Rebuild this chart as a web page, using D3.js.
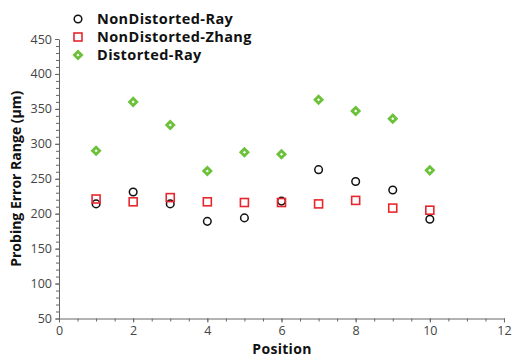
<!DOCTYPE html>
<html>
<head>
<meta charset="utf-8">
<script src="https://cdn.jsdelivr.net/npm/d3@7"></script>
<style>
  body { margin: 0; background: #fff; }
  svg { display: block; font-family: "Open Sans", sans-serif; }
  .axis path, .axis line { stroke: #666; }
  .axis text { fill: #444; font-size: 12.5px; font-family: "Open Sans", sans-serif; }
</style>
</head>
<body>
<svg id="chart" width="512" height="358"></svg>
<script>
const positions = [1, 2, 3, 4, 5, 6, 7, 8, 9, 10];
const nonDistortedRay = [214, 231, 214, 189, 194, 218, 263, 246, 234, 192];
const nonDistortedZhang = [221, 217, 223, 217, 216, 216, 214, 219, 208, 205];
const distortedRay = [290, 360, 327, 261, 288, 285, 363, 347, 336, 262];
const seriesNames = ['NonDistorted-Ray', 'NonDistorted-Zhang', 'Distorted-Ray'];

const svg = d3.select('#chart');

const margin = { top: 39, right: 8, bottom: 40, left: 59 };
const chartWidth = 504 - margin.left;
const chartHeight = 318.5 - margin.top;

const g = svg.append('g').attr('transform', `translate(${margin.left},${margin.top})`);

const x = d3.scaleLinear().domain([0, 12]).range([0, chartWidth]);
const y = d3.scaleLinear().domain([50, 450]).range([chartHeight, 0]);

//
// MINOR TICKS
//
g.append('g')
  .attr('class', 'axis')
  .attr('transform', `translate(0,${chartHeight})`)
  .call(d3.axisBottom(x).tickValues(d3.range(0, 12.01, 0.5)).tickSize(3).tickFormat(() => ''))
  .call((s) => s.select('.domain').remove());

g.append('g')
  .attr('class', 'axis')
  .call(d3.axisLeft(y).tickValues(d3.range(50, 451, 10)).tickSize(3).tickFormat(() => ''))
  .call((s) => s.select('.domain').remove());

//
// AXES
//
g.append('g')
  .attr('class', 'axis')
  .attr('transform', `translate(0,${chartHeight})`)
  .call(d3.axisBottom(x).ticks(6).tickSize(4).tickSizeOuter(0).tickPadding(4));

g.append('g')
  .attr('class', 'axis')
  .call(d3.axisLeft(y).ticks(8).tickSize(4).tickSizeOuter(0).tickPadding(3));

//
// AXIS TITLES
//
svg.append('text')
  .attr('x', 282)
  .attr('y', 354)
  .attr('text-anchor', 'middle')
  .attr('font-weight', 'bold')
  .attr('font-size', 14)
  .attr('letter-spacing', 0.3)
  .attr('fill', '#111')
  .text('Position');

svg.append('text')
  .attr('transform', `translate(21,${margin.top + chartHeight / 2}) rotate(-90)`)
  .attr('text-anchor', 'middle')
  .attr('font-weight', 'bold')
  .attr('font-size', 14)
  .attr('fill', '#111')
  .text('Probing Error Range (μm)');

//
// MARKERS
//
const diamond = d3.symbol().type(d3.symbolDiamond2).size(32);

function drawCircle(sel, cx, cy) {
  sel.append('circle')
    .attr('cx', cx).attr('cy', cy).attr('r', 3.8)
    .attr('fill', 'none').attr('stroke', '#111').attr('stroke-width', 1.5);
}
function drawSquare(sel, cx, cy) {
  sel.append('rect')
    .attr('x', cx - 4).attr('y', cy - 4).attr('width', 8).attr('height', 8)
    .attr('fill', 'none').attr('stroke', '#e8262d').attr('stroke-width', 1.6);
}
function drawDiamond(sel, cx, cy) {
  sel.append('path')
    .attr('d', diamond)
    .attr('transform', `translate(${cx},${cy})`)
    .attr('fill', '#fff').attr('stroke', '#6cc13a').attr('stroke-width', 2.8);
}

positions.forEach((p, i) => {
  drawDiamond(g, x(p), y(distortedRay[i]));
});
positions.forEach((p, i) => {
  drawCircle(g, x(p), y(nonDistortedRay[i]));
});
positions.forEach((p, i) => {
  drawSquare(g, x(p), y(nonDistortedZhang[i]));
});

//
// LEGEND
//
const drawers = [drawCircle, drawSquare, drawDiamond];
const legend = svg.append('g').attr('transform', 'translate(78,19)');
seriesNames.forEach((name, i) => {
  const ly = i * 18;
  drawers[i](legend, 0, ly);
  legend.append('text')
    .attr('x', 19)
    .attr('y', ly + 5)
    .attr('font-weight', 'bold')
    .attr('font-size', 14.5)
    .attr('letter-spacing', 0.4)
    .attr('fill', '#111')
    .text(name);
});
</script>
</body>
</html>
